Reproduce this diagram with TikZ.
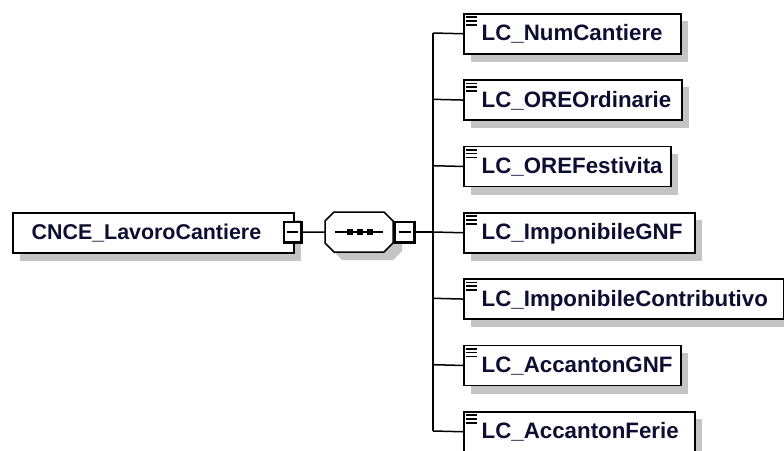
\documentclass[tikz,border=0pt]{standalone}
\usepackage{fontspec}
\setmainfont{Liberation Sans}
\definecolor{shadowgray}{RGB}{196,196,196}
\definecolor{txtcol}{RGB}{14,14,50}
\tikzset{
  shad/.style={fill=shadowgray, draw=none},
  elem/.style={draw=black, line width=1.5pt, fill=white, rectangle, inner sep=0pt, anchor=north west},
  lbl/.style={font=\bfseries\fontsize{22.3}{26}\selectfont, text=txtcol, inner sep=0pt, anchor=base west},
  rootlblstyle/.style={font=\bfseries\fontsize{21.4}{25}\selectfont, text=txtcol, inner sep=0pt, anchor=base west},
  conn/.style={draw=black, line width=1.5pt},
  iconline/.style={draw=black, line width=1.6pt}
}
\begin{document}
\begin{tikzpicture}[x=1pt,y=-1pt]
\useasboundingbox (0,0) rectangle (784,450);
% ---- root element
\fill[shad] (20,220) rectangle (301,261);
\node[elem, minimum width=281pt, minimum height=40pt] (root) at (12,212) {};
\node[rootlblstyle] (rootlbl) at (31.5,239.5) {CNCE\_LavoroCantiere};
% minus box of root
\fill[black] (283,221) rectangle (303,244);
\node[fill=white, draw=none, inner sep=0pt, minimum width=15.5pt, minimum height=18.5pt, anchor=north west] (rootm) at (284.5,222.5) {};
\draw[line width=1.5pt] (287,232) -- (298,232);
\coordinate (rootmE) at (303,232);
% ---- sequence compositor
\fill[shad] (342,220) -- (393,220) -- (402,229) -- (402,251) -- (393,260) -- (342,260) -- (333,251) -- (333,229) -- cycle;
\node[draw=none, inner sep=0pt, minimum width=68pt, minimum height=40pt, anchor=north west] (seq) at (325,212) {};
\draw[line width=1.5pt, fill=white] (334,212) -- (384,212) -- (393,221) -- (393,243) -- (384,252) -- (334,252) -- (325,243) -- (325,221) -- cycle;
\draw[line width=1.5pt] (335,232) -- (383,232);
\foreach \cx in {350,360,370} \fill[black] (\cx-3,229) rectangle (\cx+3,235);
\fill[black] (394,221) rectangle (416,244);
\node[fill=white, draw=none, inner sep=0pt, minimum width=17.5pt, minimum height=18.5pt, anchor=north west] (seqm) at (395.5,222.5) {};
\draw[line width=1.5pt] (398.5,232) -- (410.5,232);
\coordinate (seqmE) at (416,232);
\draw[conn] (rootmE) -- (seq.west);
% ---- child elements
\foreach \i/\yc/\xr/\name in {
  1/33/680/LC\_NumCantiere,
  2/99.3/681/LC\_OREOrdinarie,
  3/165.7/670/LC\_OREFestivita,
  4/232/694/LC\_ImponibileGNF,
  5/298.3/783/LC\_ImponibileContributivo,
  6/364.7/680/LC\_AccantonGNF,
  7/431/694/LC\_AccantonFerie}{
  \fill[shad] (471,\yc-12) rectangle (\xr+8,\yc+29);
  \pgfmathsetmacro{\w}{\xr-463}
  \node[elem, minimum width=\w pt, minimum height=40pt] (c\i) at (463,\yc-20) {};
  \draw[iconline] (466,\yc-16) -- (477,\yc-16);
  \draw[iconline] (466,\yc-12.2) -- (477,\yc-12.2);
  \draw[iconline] (466,\yc-8.2) -- (477,\yc-8.2);
  \node[lbl] (l\i) at (481.5,\yc+7.8) {\name};
  \coordinate (v\i) at (433,\yc);
  \draw[conn] (v\i) -- (c\i.west);
}
\draw[conn] (v1) -- (v7);
\draw[conn] (seqmE) -- (v4);
\end{tikzpicture}
\end{document}
